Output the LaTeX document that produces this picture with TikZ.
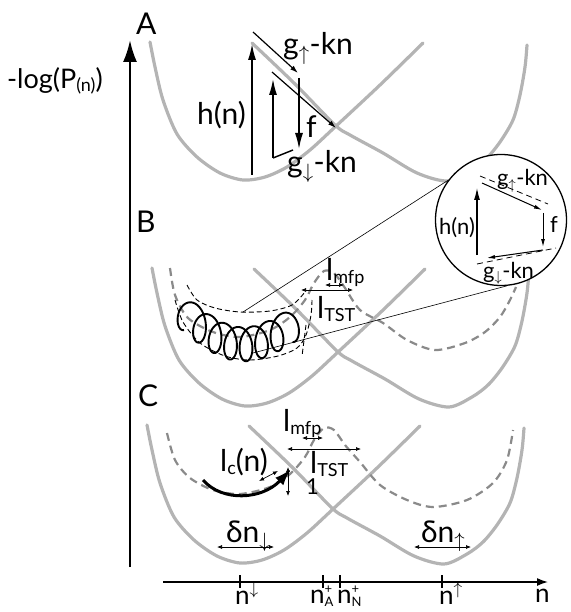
\documentclass[tikz,border=0pt]{standalone}
\usepackage{fontspec}
\setmainfont{Lato}
\usetikzlibrary{arrows.meta}
\definecolor{wellgray}{HTML}{B4B4B4}
\definecolor{dgray}{HTML}{8A8A8A}
\newcommand{\mysub}[1]{{\fontsize{13}{13}\selectfont #1}}
\newcommand{\lsub}[1]{\raisebox{-3pt}{\fontsize{18}{18}\selectfont #1}}
\newcommand{\nplus}[1]{n\rlap{\raisebox{10pt}{\mysub{+}}}\raisebox{-3pt}{\mysub{#1}}}
\newcommand{\wellpair}{%
 \draw[well] plot[smooth] coordinates {(150,42) (155,67) (163,100) (177,134) (197,157) (220,173) (243,180) (265,177) (287,167) (310,150) (335,127) (380,85) (423,43)};
 \draw[well] plot[smooth] coordinates {(252,43) (295,84) (335,125) (350,135) (383,153) (417,173) (447,181) (470,171) (486,159) (500,142) (513,120) (520,95) (525,67) (527,45)};}
\begin{document}
\begin{tikzpicture}[x=1pt,y=-1pt,
  well/.style={draw=wellgray,line width=3.2pt,line cap=round},
  dpot/.style={draw=dgray,line width=2.2pt,dash pattern=on 8pt off 5pt},
  env/.style={draw=black,line width=0.9pt,dash pattern=on 5pt off 3pt},
  arr/.style={draw=black,line width=1.5pt,-{Latex[length=16pt,width=8pt]}},
  sarr/.style={draw=black,line width=1.2pt,-{Latex[length=8pt,width=5pt]}},
  carr/.style={draw=black,line width=1.1pt,-{Latex[length=12pt,width=6pt]}},
  csarr/.style={draw=black,line width=1pt,-{Latex[length=8pt,width=4pt]}},
  cdash/.style={draw=black,line width=0.8pt,dash pattern=on 6pt off 4pt},
  dbl/.style={draw=black,line width=0.7pt,{Latex[length=5pt,width=4pt]}-{Latex[length=5pt,width=4pt]}},
  thinl/.style={draw=black,line width=0.6pt},
  lbl/.style={inner sep=0pt,font=\fontsize{30}{32}\selectfont,anchor=base west},
  slbl/.style={inner sep=0pt,font=\fontsize{22}{24}\selectfont,anchor=base west},
  albl/.style={inner sep=0pt,font=\fontsize{26}{28}\selectfont,anchor=base west},
  plbl/.style={inner sep=0pt,font=\fontsize{30}{32}\selectfont,anchor=base west},
]
\useasboundingbox (0,0) rectangle (570,612);

% wells
\wellpair
\begin{scope}[shift={(2,226)}]\wellpair\end{scope}
\begin{scope}[shift={(-3,383)}]\wellpair\end{scope}

% dashed potentials
\draw[dpot] plot[smooth] coordinates {(170,268) (175,295) (188,318) (213,332) (240,337) (270,330) (290,317) (305,300) (314,283) (324,271) (334,273) (345,288) (360,310) (383,323) (407,340) (435,350) (465,343) (485,332) (500,317) (510,300) (516,287)};
\draw[dpot] plot[smooth] coordinates {(167,433) (175,460) (190,478) (213,490) (240,494) (270,487) (290,474) (305,457) (314,440) (324,428) (334,430) (345,445) (360,462) (380,485) (407,500) (433,507) (467,500) (493,483) (507,460) (513,430)};

% envelope in B
\draw[env] plot[smooth] coordinates {(187,285) (197,300) (215,308) (240,312) (270,311) (292,305) (305,292)};
\draw[env] plot[smooth] coordinates {(175,300) (183,322) (200,343) (225,356) (250,360) (278,356) (297,348) (306,335) (311,315) (312,300)};
\coordinate (ev0) at (306,325); \coordinate (ev1) at (302,356);
\draw[env] (ev0) -- (ev1);

% spiral
\draw[black,line width=1.9pt] plot[domain=0:7,samples=500,smooth]
  ({184+15.5*\x-10*sin(360*\x)},{313+12*\x/7+25*sin(180*\x/7)+17*cos(360*\x)});

% magnifier
\coordinate (m1) at (243,312);
\coordinate (m2) at (253,353);
\node[circle,draw=black,fill=white,line width=1.3pt,minimum size=131pt,inner sep=0pt] (mag) at (501,220) {};
\draw[thinl] (m1) -- (mag.143);
\draw[thinl] (m2) -- (mag.-85);

% inside circle
\coordinate (ch0) at (477,255); \coordinate (ch1) at (477,188);
\draw[carr] (ch0) -- (ch1);
\coordinate (ct0) at (482,183); \coordinate (ct1) at (542,210);
\draw[csarr] (ct0) -- (ct1);
\coordinate (cd0) at (480,176); \coordinate (cd1) at (548,204);
\draw[cdash] (cd0) -- (cd1);
\coordinate (cf0) at (543,213); \coordinate (cf1) at (543,247);
\draw[csarr] (cf0) -- (cf1);
\coordinate (cb0) at (543,250); \coordinate (cb1) at (487,258);
\draw[csarr] (cb0) -- (cb1);
\coordinate (ce0) at (477,264); \coordinate (ce1) at (556,248);
\draw[cdash] (ce0) -- (ce1);
\node[slbl] (chn) at (439,234) {h(n)};
\node[slbl] (cgu) at (497,186) {g$_{\uparrow}$-kn};
\node[slbl] (cf) at (550,232) {f};
\node[slbl] (cgd) at (483,278) {g$_{\downarrow}$-kn};

% panel A arrows
\coordinate (hA0) at (252,175); \coordinate (hA1) at (252,44);
\draw[arr] (hA0) -- (hA1);
\coordinate (gu0) at (253,32); \coordinate (gu1) at (298,73);
\draw[sarr] (gu0) -- (gu1);
\coordinate (f0) at (299,78); \coordinate (f1) at (299,149);
\draw[arr] (f0) -- (f1);
\coordinate (u0) at (273,158); \coordinate (u1) at (273,79);
\draw[arr] (u0) -- (u1);
\coordinate (s0) at (272,72); \coordinate (s1) at (336,128);
\draw[sarr] (s0) -- (s1);
\coordinate (b0) at (273,158); \coordinate (b1) at (293,150);
\draw[black,line width=1.4pt] (b0) -- (b1);
\node[lbl] (hn) at (197,125) {h(n)};
\node[lbl] (gup) at (283,55) {g$_{\uparrow}$-kn};
\node[lbl] (fA) at (306,138) {f};
\node[lbl] (gdn) at (287,173) {g$_{\downarrow}$-kn};

% panel B labels
\coordinate (bm0) at (325,285); \coordinate (bm1) at (344,285);
\draw[dbl] (bm0) -- (bm1);
\coordinate (bt0) at (301,290); \coordinate (bt1) at (353,290);
\draw[dbl] (bt0) -- (bt1);
\node[lbl] (lmfpB) at (326,280) {l\lsub{mfp}};
\node[lbl] (ltstB) at (317,318) {l\lsub{TST}};

% panel C
\coordinate (lc0) at (203,480); \coordinate (lc1) at (291,469);
\draw[black,line width=3pt,-{Latex[length=17pt,width=11pt]}] (lc0) .. controls (222,502) and (262,500) .. (lc1);
\coordinate (cm0) at (302,438); \coordinate (cm1) at (323,438);
\draw[dbl] (cm0) -- (cm1);
\coordinate (ctt0) at (287,449); \coordinate (ctt1) at (361,449);
\draw[dbl] (ctt0) -- (ctt1);
\coordinate (cl0) at (259,481); \coordinate (cl1) at (278,471);
\draw[dbl] (cl0) -- (cl1);
\coordinate (cv0) at (288,467); \coordinate (cv1) at (288,496);
\draw[dbl] (cv0) -- (cv1);
\node[lbl] (lmfpC) at (283,431) {l\lsub{mfp}};
\node[lbl] (ltstC) at (310,473) {l\lsub{TST}};
\node[lbl] (lcn) at (220,471) {l\lsub{c}(n)};
\node[slbl] (one) at (306,494) {1};

% delta n
\coordinate (dd0) at (217,547); \coordinate (dd1) at (274,547);
\draw[dbl] (dd0) -- (dd1);
\coordinate (du0) at (414,547); \coordinate (du1) at (471,547);
\draw[dbl] (du0) -- (du1);
\node[lbl] (dnd) at (226,542) {δn$_{\downarrow}$};
\node[lbl] (dnu) at (421,542) {δn$_{\uparrow}$};

% axes
\coordinate (vy0) at (130,567); \coordinate (vy1) at (130,40);
\draw[black,line width=2.5pt,-{Latex[length=22pt,width=14pt]}] (vy0) -- (vy1);
\coordinate (hx0) at (163,582); \coordinate (hx1) at (548,582);
\draw[black,line width=1.5pt,-{Latex[length=11pt,width=8pt]}] (hx0) -- (hx1);
\foreach \t in {240,323,340,442} \draw[black,line width=1.5pt] (\t,575) -- (\t,588);
\node[albl] (nd) at (235,604) {n$^{\downarrow}$};
\node[albl] (nA) at (310,603) {\nplus{A}};
\node[albl] (nN) at (337,603) {\nplus{N}};
\node[albl] (nu) at (439,604) {n$^{\uparrow}$};
\node[albl] (nax) at (535,602) {n};
\node[lbl,font=\fontsize{27}{30}\selectfont] (ylab) at (7,89) {-log(P\lsub{(n)})};

% panel letters
\node[plbl] (pA) at (136,35) {A};
\node[plbl] (pB) at (136,232) {B};
\node[plbl] (pC) at (138,406) {C};
\end{tikzpicture}
\end{document}
